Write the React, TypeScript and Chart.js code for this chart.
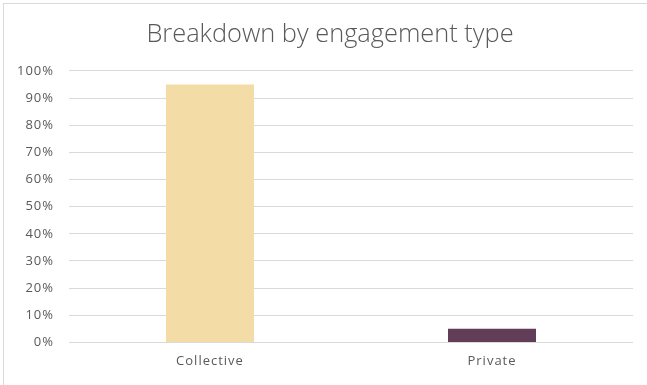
import React, { useEffect, useRef } from "react";
import { Chart, registerables } from "chart.js";

Chart.register(...registerables);

const categories = ["Collective", "Private"];
const shares = [95, 5];
const barColors = ["#F3DCA5", "#613D57"];
const yTicks = [0, 10, 20, 30, 40, 50, 60, 70, 80, 90, 100];
const titleText = "Breakdown by engagement type";

const spacingPlugin = {
  id: "tickSpacing",
  afterLayout(chart: any) {
    const t = chart.titleBlock;
    if (t) {
      t.left = 27;
      t.right = 633;
    }
  },
  beforeDraw(chart: any) {
    chart.ctx.letterSpacing = "0px";
  },
  afterDatasetsDraw(chart: any) {
    chart.ctx.letterSpacing = "1px";
  },
  afterDraw(chart: any) {
    chart.ctx.letterSpacing = "0px";
  },
};

export default function App() {
  const ref = useRef<HTMLCanvasElement | null>(null);
  useEffect(() => {
    if (!ref.current) return;
    const font = "'Open Sans', 'Noto Sans', sans-serif";
    const chart = new Chart(ref.current, {
      type: "bar",
      data: {
        labels: categories,
        datasets: [
          {
            data: shares,
            backgroundColor: barColors,
            borderWidth: 0,
            categoryPercentage: 1,
            barPercentage: 0.312,
          },
        ],
      },
      plugins: [spacingPlugin],
      options: {
        animation: false,
        responsive: false,
        maintainAspectRatio: false,
        layout: { padding: { left: 0, right: 14, top: 0, bottom: 4 } },
        plugins: {
          legend: { display: false },
          tooltip: { enabled: false },
          title: {
            display: true,
            text: titleText,
            color: "#595959",
            font: { family: font, size: 25.4, weight: "300" as any },
            padding: { top: 20, bottom: 20.5 },
          },
        },
        scales: {
          x: {
            grid: { display: false, drawTicks: false },
            border: { display: false },
            ticks: {
              z: 1,
              color: "#595959",
              font: { family: font, size: 13 },
              padding: 11.5,
            },
          },
          y: {
            min: 0,
            max: 100,
            afterBuildTicks: (scale: any) => {
              scale.ticks = yTicks.map((v) => ({ value: v }));
            },
            afterFit: (scale: any) => {
              scale.width = 69;
            },
            grid: { color: "#D9D9D9", lineWidth: 1, drawTicks: false },
            border: { display: false },
            ticks: {
              z: 1,
              color: "#595959",
              font: { family: font, size: 13 },
              padding: 15,
              callback: (v: any) => v + "%",
            },
          },
        },
      },
    });
    return () => chart.destroy();
  }, []);
  return (
    <div style={{ position: "fixed", left: 0, top: 0, width: 647, height: 385, overflow: "hidden", background: "#fff" }}>
      <div
        style={{
          position: "absolute",
          left: 3,
          top: 3,
          width: 660,
          height: 400,
          border: "1px solid #D9D9D9",
        }}
      />
      <canvas ref={ref} width={647} height={385} style={{ position: "absolute", left: 0, top: 0 }} />
    </div>
  );
}
